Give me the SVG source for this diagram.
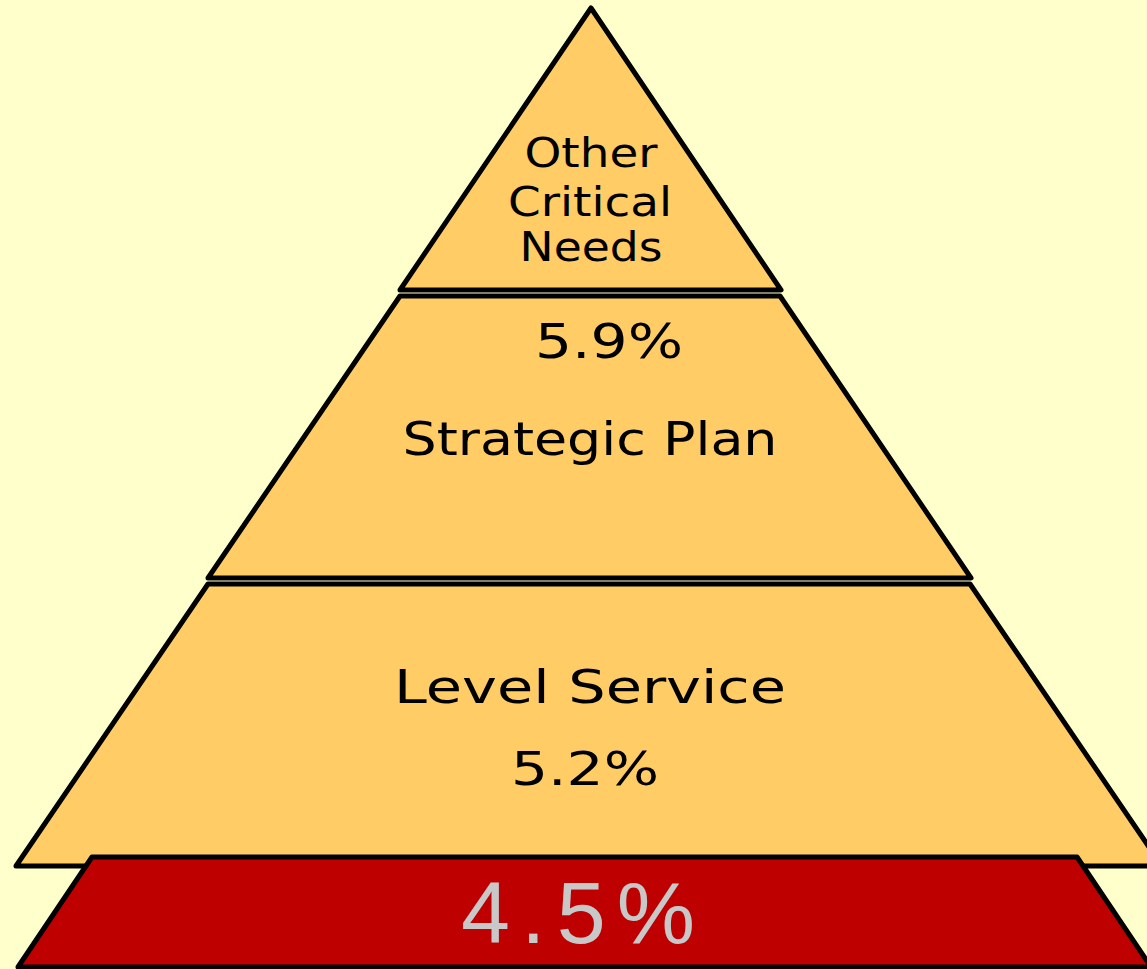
<svg xmlns="http://www.w3.org/2000/svg" width="1147" height="969" viewBox="0 0 1147 969">
<style>
.layer{fill:#FFCC66;stroke:#000;stroke-width:5;stroke-linejoin:round}
.base{fill:#BF0000;stroke:#000;stroke-width:5;stroke-linejoin:round}
.t{font-family:"DejaVu Sans","Liberation Sans",sans-serif;fill:#000;text-anchor:middle}
.big{font-family:"Liberation Sans",sans-serif;fill:#C8C8C8;text-anchor:middle}
</style>
<rect width="1147" height="969" fill="#FFFFCC"/>
<g id="level-service">
<polygon class="layer" points="208,584 970,584 1162,866 16,866"/>
<text class="t" x="590" y="703" font-size="47" textLength="392" lengthAdjust="spacingAndGlyphs">Level Service</text>
<text class="t" x="585" y="785" font-size="47" textLength="148" lengthAdjust="spacingAndGlyphs">5.2%</text>
</g>
<g id="base">
<polygon class="base" points="92,857 1077,857 1151,967 18,967"/>
<text class="big" x="578" y="943" font-size="88" textLength="234" lengthAdjust="spacing">4.5%</text>
</g>
<g id="strategic-plan">
<polygon class="layer" points="400,296 780,296 971,578 208,578"/>
<text class="t" x="609" y="358" font-size="48" textLength="148" lengthAdjust="spacingAndGlyphs">5.9%</text>
<text class="t" x="590" y="455" font-size="47" textLength="375" lengthAdjust="spacingAndGlyphs">Strategic Plan</text>
</g>
<g id="other-critical-needs">
<polygon class="layer" points="591,8 781,290 400,290"/>
<text class="t" x="591" y="167" font-size="41" textLength="133" lengthAdjust="spacingAndGlyphs">Other</text>
<text class="t" x="590" y="216" font-size="41" textLength="164" lengthAdjust="spacingAndGlyphs">Critical</text>
<text class="t" x="591" y="261" font-size="41" textLength="143" lengthAdjust="spacingAndGlyphs">Needs</text>
</g>
<g id="connectors"/>
</svg>
